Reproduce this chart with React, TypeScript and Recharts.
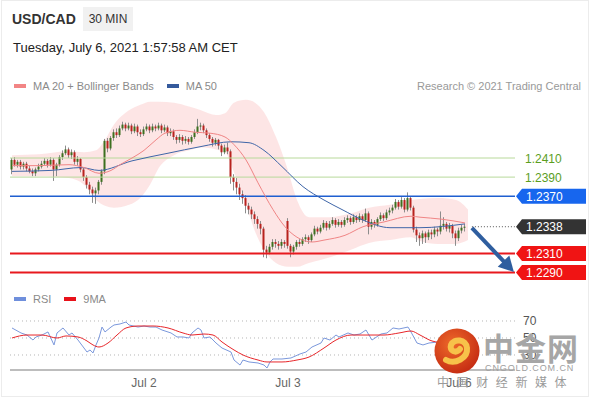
import React from "react";
import { ComposedChart, Bar, Line, Area, XAxis, YAxis, ReferenceLine } from "recharts";

// 30 min candles, [open, high, low, close]
const candles: [number, number, number, number][] = [
  [1.2398, 1.241, 1.2393, 1.2408], [1.2408, 1.2411, 1.2401, 1.2403], [1.2403, 1.2408, 1.24, 1.2406], [1.2406, 1.2408, 1.2398, 1.2401],
  [1.2401, 1.2406, 1.2398, 1.2404], [1.2404, 1.2406, 1.2396, 1.2399], [1.2399, 1.2402, 1.2394, 1.2396], [1.2396, 1.2399, 1.2391, 1.2394],
  [1.2394, 1.24, 1.2391, 1.2398], [1.2398, 1.2404, 1.2396, 1.2401], [1.2401, 1.2407, 1.2399, 1.2404], [1.2404, 1.241, 1.2402, 1.2407],
  [1.2407, 1.2409, 1.24, 1.2403], [1.2403, 1.2411, 1.2401, 1.2408], [1.2408, 1.241, 1.2386, 1.2398], [1.2398, 1.2405, 1.2391, 1.2403],
  [1.2403, 1.2413, 1.2401, 1.2411], [1.2411, 1.2418, 1.2408, 1.2415], [1.2415, 1.2423, 1.2413, 1.2419], [1.2419, 1.2421, 1.241, 1.2413],
  [1.2413, 1.2419, 1.2409, 1.2416], [1.2416, 1.2418, 1.2403, 1.2406], [1.2406, 1.2412, 1.2402, 1.2409], [1.2409, 1.241, 1.2395, 1.2398],
  [1.2398, 1.24, 1.2386, 1.239], [1.239, 1.2392, 1.2378, 1.2382], [1.2382, 1.2385, 1.2372, 1.2377], [1.2377, 1.238, 1.2363, 1.2373],
  [1.2373, 1.2379, 1.2362, 1.2376], [1.2376, 1.2387, 1.2372, 1.2385], [1.2385, 1.2398, 1.2382, 1.2396], [1.2396, 1.243, 1.2393, 1.2428],
  [1.2428, 1.2431, 1.2416, 1.242], [1.242, 1.2433, 1.2418, 1.2431], [1.2431, 1.244, 1.2428, 1.2437], [1.2437, 1.2441, 1.2431, 1.2434],
  [1.2434, 1.2444, 1.2432, 1.2441], [1.2441, 1.2448, 1.2439, 1.2445], [1.2445, 1.2447, 1.2438, 1.2441], [1.2441, 1.2447, 1.2439, 1.2444],
  [1.2444, 1.2446, 1.2435, 1.2438], [1.2438, 1.2446, 1.2436, 1.2443], [1.2443, 1.2445, 1.2433, 1.2437], [1.2437, 1.244, 1.2432, 1.2435],
  [1.2435, 1.2443, 1.2433, 1.244], [1.244, 1.2446, 1.2438, 1.2443], [1.2443, 1.2445, 1.2436, 1.2439], [1.2439, 1.2446, 1.2437, 1.2443],
  [1.2443, 1.2445, 1.2438, 1.2441], [1.2441, 1.2447, 1.2439, 1.2444], [1.2444, 1.2446, 1.2436, 1.2439], [1.2439, 1.2445, 1.2437, 1.2442],
  [1.2442, 1.2444, 1.2433, 1.2436], [1.2436, 1.2441, 1.2433, 1.2438], [1.2438, 1.244, 1.2429, 1.2432], [1.2432, 1.2434, 1.2425, 1.2429],
  [1.2429, 1.2435, 1.2426, 1.2432], [1.2432, 1.2434, 1.2424, 1.2428], [1.2428, 1.2433, 1.2425, 1.243], [1.243, 1.2432, 1.2424, 1.2427],
  [1.2427, 1.2434, 1.2425, 1.2432], [1.2432, 1.244, 1.243, 1.2437], [1.2437, 1.2451, 1.2435, 1.2443], [1.2443, 1.2447, 1.2439, 1.2444],
  [1.2444, 1.2446, 1.2436, 1.2439], [1.2439, 1.2441, 1.2431, 1.2434], [1.2434, 1.2436, 1.2427, 1.243], [1.243, 1.2432, 1.2422, 1.2426],
  [1.2426, 1.2431, 1.2423, 1.2429], [1.2429, 1.243, 1.2419, 1.2423], [1.2423, 1.2425, 1.2412, 1.2416], [1.2416, 1.2424, 1.2414, 1.2421],
  [1.2421, 1.2426, 1.2414, 1.2417], [1.2417, 1.2419, 1.2383, 1.239], [1.239, 1.2393, 1.2376, 1.2385], [1.2385, 1.2389, 1.2372, 1.2379],
  [1.2379, 1.2383, 1.2366, 1.2372], [1.2372, 1.2376, 1.2362, 1.2368], [1.2368, 1.2371, 1.2352, 1.236], [1.236, 1.2363, 1.2351, 1.2356],
  [1.2356, 1.2359, 1.2346, 1.2351], [1.2351, 1.2354, 1.2341, 1.2346], [1.2346, 1.2349, 1.2336, 1.2341], [1.2341, 1.2344, 1.233, 1.2336],
  [1.2336, 1.2338, 1.2306, 1.2314], [1.2314, 1.2318, 1.2305, 1.2311], [1.2311, 1.232, 1.2309, 1.2317], [1.2317, 1.2325, 1.2314, 1.2322],
  [1.2322, 1.2325, 1.2316, 1.232], [1.232, 1.2323, 1.2314, 1.2318], [1.2318, 1.2325, 1.2315, 1.2322], [1.2322, 1.2324, 1.2316, 1.232],
  [1.2344, 1.2347, 1.2315, 1.2318], [1.2318, 1.232, 1.2306, 1.2312], [1.2312, 1.2319, 1.2309, 1.2317], [1.2317, 1.2324, 1.2314, 1.2322],
  [1.2322, 1.2325, 1.2317, 1.232], [1.232, 1.2327, 1.2318, 1.2325], [1.2325, 1.233, 1.2322, 1.2327], [1.2327, 1.2329, 1.232, 1.2324],
  [1.2324, 1.2332, 1.2322, 1.233], [1.233, 1.2339, 1.2328, 1.2336], [1.2336, 1.2338, 1.233, 1.2333], [1.2333, 1.234, 1.2331, 1.2337],
  [1.2337, 1.2345, 1.2335, 1.2342], [1.2342, 1.2344, 1.2334, 1.2337], [1.2337, 1.2344, 1.2335, 1.2341], [1.2341, 1.2348, 1.2339, 1.2345],
  [1.2345, 1.2347, 1.2337, 1.234], [1.234, 1.2346, 1.2338, 1.2343], [1.2343, 1.2345, 1.2337, 1.234], [1.234, 1.2348, 1.2338, 1.2345],
  [1.2345, 1.235, 1.2342, 1.2347], [1.2347, 1.2349, 1.234, 1.2343], [1.2343, 1.2351, 1.2341, 1.2348], [1.2348, 1.235, 1.2342, 1.2345],
  [1.2345, 1.2352, 1.2343, 1.2349], [1.2349, 1.2351, 1.2342, 1.2345], [1.2345, 1.2357, 1.2343, 1.2352], [1.2352, 1.2354, 1.233, 1.2338],
  [1.2338, 1.2346, 1.2335, 1.2343], [1.2343, 1.2345, 1.2337, 1.234], [1.234, 1.2348, 1.2338, 1.2346], [1.2346, 1.2353, 1.2344, 1.235],
  [1.235, 1.2352, 1.2344, 1.2347], [1.2347, 1.2356, 1.2345, 1.2353], [1.2353, 1.2358, 1.235, 1.2355], [1.2355, 1.2361, 1.2352, 1.2358],
  [1.2358, 1.2367, 1.2356, 1.2364], [1.2364, 1.2366, 1.2356, 1.2359], [1.2359, 1.2369, 1.2357, 1.2366], [1.2366, 1.2368, 1.2353, 1.2356],
  [1.2356, 1.2374, 1.2354, 1.2368], [1.2368, 1.237, 1.2355, 1.2358], [1.2358, 1.236, 1.2332, 1.2335], [1.2335, 1.2338, 1.2322, 1.2329],
  [1.2329, 1.2332, 1.2318, 1.2326], [1.2326, 1.2334, 1.232, 1.2331], [1.2331, 1.2333, 1.2321, 1.2327], [1.2327, 1.2335, 1.2324, 1.2332],
  [1.2332, 1.2335, 1.2325, 1.233], [1.233, 1.2338, 1.2327, 1.2335], [1.2335, 1.2337, 1.2328, 1.2333], [1.2333, 1.2354, 1.233, 1.2339],
  [1.2339, 1.2348, 1.2335, 1.2341], [1.2341, 1.2343, 1.2333, 1.2336], [1.2336, 1.2342, 1.2332, 1.2339], [1.2339, 1.2341, 1.2326, 1.2331],
  [1.2331, 1.2334, 1.2318, 1.2326], [1.2326, 1.2337, 1.2323, 1.2334], [1.2334, 1.234, 1.2331, 1.2337], [1.2337, 1.2341, 1.2333, 1.2338],
];

// [candle index, value]
const ma20: [number, number][] = [
  [0, 1.2402], [9, 1.2402], [19, 1.2403], [24, 1.24], [29, 1.2394], [33, 1.2397], [36, 1.2403], [40, 1.241],
  [44, 1.2418], [48, 1.2429], [51, 1.2436], [56, 1.2439], [61, 1.2437], [66, 1.2436], [71, 1.2432], [74, 1.2424],
  [78, 1.2408], [82, 1.2384], [87, 1.2356], [91, 1.2338], [95, 1.2327], [100, 1.2322], [104, 1.2324], [111, 1.2329],
  [117, 1.2338], [124, 1.2343], [133, 1.2349], [136, 1.2348], [143, 1.2346], [151, 1.2342],
];

const ma50: [number, number][] = [
  [0, 1.2396], [13, 1.2397], [23, 1.24], [29, 1.2397], [40, 1.2407], [52, 1.2415], [63, 1.2422], [73, 1.2427],
  [79, 1.2426], [84, 1.2418], [90, 1.2401], [97, 1.238], [104, 1.2366], [110, 1.2356], [117, 1.2345], [126, 1.2337],
  [136, 1.2337], [151, 1.2341],
];

// [candle index, lower band, upper band]
const bollinger: [number, number, number][] = [
  [0, 1.2391, 1.2413], [9, 1.2391, 1.2414], [19, 1.2389, 1.2417], [24, 1.2382, 1.2416], [28, 1.2366, 1.2418],
  [31, 1.236, 1.2429], [34, 1.2358, 1.2445], [39, 1.2361, 1.246], [43, 1.2369, 1.2466], [46, 1.2382, 1.2469],
  [49, 1.24, 1.2469], [54, 1.2413, 1.2468], [59, 1.2418, 1.2464], [63, 1.2421, 1.246], [68, 1.2419, 1.2455],
  [71, 1.2416, 1.2457], [74, 1.2395, 1.2468], [78, 1.2361, 1.2471], [81, 1.2333, 1.2468], [84, 1.2314, 1.2458],
  [88, 1.23, 1.2432], [92, 1.2296, 1.2397], [95, 1.2296, 1.2366], [99, 1.23, 1.2348], [106, 1.2306, 1.2348],
  [113, 1.2314, 1.2352], [119, 1.2321, 1.2358], [126, 1.2324, 1.2361], [133, 1.2327, 1.2366], [136, 1.2323, 1.2367],
  [142, 1.232, 1.2368], [148, 1.232, 1.2366], [152, 1.2324, 1.2356],
];

const rsi: [number, number][] = [
  [0, 61.8], [3, 55.9], [5, 53.5], [7, 47.6], [8, 51.2], [10, 53.5], [12, 57.1], [14, 41.8], [15, 55.9], [17, 61.8],
  [19, 53.5], [20, 55.9], [22, 47.6], [24, 38.2], [25, 33.5], [26, 35.9], [27, 32.4], [28, 41.8], [29, 50], [30, 62.9],
  [31, 57.1], [33, 62.9], [34, 65.3], [36, 66.5], [38, 68.8], [39, 65.3], [42, 62.9], [44, 64.1], [46, 62.9], [48, 62.9],
  [50, 59.4], [53, 55.9], [55, 51.2], [57, 51.2], [59, 50], [60, 55.9], [62, 61.8], [63, 59.4], [64, 50], [66, 51.2],
  [68, 44.1], [70, 38.2], [73, 33.5], [74, 24.1], [76, 18.2], [77, 24.1], [79, 21.8], [82, 20.6], [84, 18.2], [85, 14.7],
  [86, 21.8], [87, 25.3], [90, 25.3], [93, 26.5], [96, 31.2], [98, 33.5], [100, 39.4], [103, 44.1], [104, 50], [106, 47.6],
  [108, 53.5], [109, 51.2], [112, 55.9], [114, 53.5], [116, 54.7], [118, 59.4], [120, 47.6], [123, 54.7], [125, 55.9],
  [127, 61.8], [129, 60.6], [132, 62.9], [133, 57.1], [135, 44.1], [137, 41.8], [139, 44.1], [142, 45.3], [145, 47],
  [148, 44], [151, 48],
];

const rsiMa: [number, number][] = [
  [0, 50], [5, 53.5], [10, 53.5], [15, 50], [18, 52.4], [22, 51.2], [25, 46.5], [27, 41.8], [29, 39.4], [32, 44.1],
  [35, 53.5], [38, 61.8], [42, 64.1], [47, 64.1], [52, 61.8], [57, 55.9], [60, 53.5], [64, 54.7], [67, 53.5], [70, 45.3],
  [74, 35.9], [77, 30], [82, 24.1], [85, 21.8], [90, 21.8], [95, 24.1], [99, 27.6], [104, 38.2], [108, 47.6], [113, 53.5],
  [118, 53.5], [124, 53.5], [129, 55.9], [133, 58.2], [136, 53.5], [140, 46.5], [145, 44], [151, 44],
];

const tickIdx = [44, 92, 149];
const tickLabels = ["Jul 2", "Jul 3", "Jul 6"];

const levels = [1.241, 1.239, 1.237, 1.2338, 1.231, 1.229];
const levelKind = ["res", "res", "pivot", "last", "sup", "sup"];
const lastPrice = 1.2338;
const target = 1.229;

const X_DOMAIN: [number, number] = [-0.67, 167.67];
const P_DOMAIN: [number, number] = [1.22822, 1.2476];
const RSI_DOMAIN: [number, number] = [12.35, 82.94];

const FONT = '"Liberation Sans", Arial, sans-serif';
const CJK = '"Noto Sans CJK SC", sans-serif';

const candleData = candles.map(([o, h, l, c], i) => ({ i, o, h, l, c, range: [l, h] }));
const ma20Data = ma20.map(([i, v]) => ({ i, v }));
const ma50Data = ma50.map(([i, v]) => ({ i, v }));
const bandData = bollinger.map(([i, lo, hi]) => ({ i, band: [lo, hi] }));
const rsiData = rsi.map(([i, v]) => ({ i, v }));
const rsiMaData = rsiMa.map(([i, v]) => ({ i, v }));

const Candle = (props: any) => {
  const { x, y, width, height, payload } = props;
  if (x == null || !payload) return null;
  const top = Math.min(y, y + height);
  const span = Math.abs(height);
  const k = payload.h > payload.l ? span / (payload.h - payload.l) : 0;
  const cx = x + width / 2;
  const yo = top + (payload.h - payload.o) * k;
  const yc = top + (payload.h - payload.c) * k;
  const up = payload.c >= payload.o;
  return (
    <g>
      <line x1={cx} x2={cx} y1={top} y2={top + span} stroke="#8c8c8c" strokeWidth={1} />
      <rect x={cx - 1} y={Math.min(yo, yc)} width={2} height={Math.max(1, Math.abs(yo - yc))} fill={up ? "#3d7020" : "#b8221e"} />
    </g>
  );
};

const tagColor: Record<string, string> = { pivot: "#1766ee", last: "#333333", sup: "#f01414" };

const LevelTag = (props: any) => {
  const { y, payload, index } = props;
  const kind = levelKind[index] ?? levelKind[levels.indexOf(payload.value)];
  const label = Number(payload.value).toFixed(4);
  if (kind === "res") {
    return (
      <text x={525} y={y} dy={4.5} fill="#5b9e1e" fontSize={12} fontFamily={FONT}>
        {label}
      </text>
    );
  }
  const d = `M516 ${y} L522 ${y - 7.5} L586 ${y - 7.5} L586 ${y + 7.5} L522 ${y + 7.5} Z`;
  return (
    <g>
      <path d={d} fill={tagColor[kind]} />
      <text x={526} y={y} dy={4.5} fill="#fff" fontSize={12} fontFamily={FONT}>
        {label}
      </text>
    </g>
  );
};

const Arrow = (props: any) => {
  const { x1, y1, x2, y2 } = props;
  if (x1 == null) return null;
  const len = Math.hypot(x2 - x1, y2 - y1) || 1;
  const ux = (x2 - x1) / len;
  const uy = (y2 - y1) / len;
  const bx = x2 - ux * 15;
  const by = y2 - uy * 15;
  const px = -uy * 8;
  const py = ux * 8;
  return (
    <g>
      <line x1={x1} y1={y1} x2={bx + ux * 2} y2={by + uy * 2} stroke="#2f5e9f" strokeWidth={4} />
      <polygon points={`${x2},${y2} ${bx + px},${by + py} ${bx - px},${by - py}`} fill="#2f5e9f" />
    </g>
  );
};

const legendText: React.CSSProperties = { fontSize: 11, color: "#8a8a8a", lineHeight: "12px" };
const swatch = (color: string): React.CSSProperties => ({
  display: "inline-block",
  width: 12,
  height: 4,
  background: color,
  marginRight: 7,
  verticalAlign: "middle",
  position: "relative",
  top: -1,
});

export default function App() {
  return (
    <div style={{ position: "absolute", left: 0, top: 0, width: 590, height: 400, background: "#fff", fontFamily: FONT, overflow: "hidden" }}>
      <div style={{ position: "absolute", left: 1, top: 0, width: 586, height: 395, border: "1px solid #ececec" }} />

      <div style={{ position: "absolute", left: 12, top: 10, fontSize: 14, fontWeight: 700, color: "#333", lineHeight: "18px" }}>USD/CAD</div>
      <div style={{ position: "absolute", left: 83, top: 7, width: 50, height: 24, background: "#f1f1f1", fontSize: 12, lineHeight: "24px", textAlign: "center", color: "#333" }}>
        30 MIN
      </div>
      <div style={{ position: "absolute", left: 13, top: 40, fontSize: 13, lineHeight: "16px", color: "#222" }}>
        Tuesday, July 6, 2021 1:57:58 AM CET
      </div>

      <div style={{ position: "absolute", left: 14, top: 80, ...legendText }}>
        <span style={swatch("#f28585")} />
        MA 20 + Bollinger Bands
        <span style={{ ...swatch("#355a9c"), marginLeft: 13 }} />
        MA 50
      </div>
      <div style={{ position: "absolute", right: 9, top: 80, ...legendText, color: "#999" }}>Research © 2021 Trading Central</div>

      <div style={{ position: "absolute", left: 0, top: 90 }}>
        <ComposedChart width={590} height={195} data={candleData} margin={{ top: 5, right: 0, bottom: 5, left: 10 }}>
          <XAxis dataKey="i" type="number" domain={X_DOMAIN} allowDataOverflow hide />
          <YAxis
            type="number"
            orientation="right"
            width={75}
            domain={P_DOMAIN}
            allowDataOverflow
            ticks={levels}
            interval={0}
            axisLine={false}
            tickLine={false}
            tick={(p: any) => <LevelTag {...p} />}
          />
          <Area data={bandData} dataKey="band" type="monotone" stroke="none" fill="#fcdada" fillOpacity={0.7} isAnimationActive={false} />
          <ReferenceLine y={levels[0]} stroke="#b8d99a" strokeWidth={1} />
          <ReferenceLine y={levels[1]} stroke="#b8d99a" strokeWidth={1} />
          <ReferenceLine y={levels[2]} stroke="#1f5fd0" strokeWidth={1.5} />
          <ReferenceLine y={levels[4]} stroke="#e8191e" strokeWidth={2} />
          <ReferenceLine y={levels[5]} stroke="#e8191e" strokeWidth={2} />
          <Bar dataKey="range" barSize={2} shape={(p: any) => <Candle {...p} />} isAnimationActive={false} />
          <Line data={ma50Data} dataKey="v" type="monotone" stroke="#3f66a8" strokeWidth={1} dot={false} isAnimationActive={false} />
          <Line data={ma20Data} dataKey="v" type="monotone" stroke="#f08585" strokeWidth={1} dot={false} isAnimationActive={false} />
          <ReferenceLine
            segment={[{ x: 153.3, y: lastPrice }, { x: 167.6, y: lastPrice }]}
            stroke="#555"
            strokeDasharray="1 2"
          />
          <ReferenceLine
            segment={[{ x: 153.3, y: 1.23367 }, { x: 167.3, y: target + 0.00006 }]}
            shape={(p: any) => <Arrow {...p} />}
          />
        </ComposedChart>
      </div>

      <div style={{ position: "absolute", left: 14, top: 293, ...legendText }}>
        <span style={swatch("#6f8fdc")} />
        RSI
        <span style={{ ...swatch("#e8121a"), marginLeft: 13 }} />
        9MA
      </div>

      <div style={{ position: "absolute", left: 0, top: 290 }}>
        <ComposedChart width={590} height={110} margin={{ top: 20, right: 0, bottom: 0, left: 10 }}>
          <XAxis
            dataKey="i"
            type="number"
            domain={X_DOMAIN}
            allowDataOverflow
            ticks={tickIdx}
            tickFormatter={(v: number) => tickLabels[tickIdx.indexOf(v)] ?? ""}
            axisLine={{ stroke: "#bdbdbd", strokeWidth: 2 }}
            tickLine={false}
            tick={{ fontSize: 12, fill: "#666", fontFamily: FONT }}
            height={30}
          />
          <YAxis
            type="number"
            orientation="right"
            width={75}
            domain={RSI_DOMAIN}
            allowDataOverflow
            ticks={[30, 50, 70]}
            interval={0}
            axisLine={false}
            tickLine={false}
            tick={{ fontSize: 12, fill: "#555", fontFamily: FONT, textAnchor: "start" }}
          />
          <ReferenceLine y={70} stroke="#b5b5b5" strokeDasharray="1 3" />
          <ReferenceLine y={50} stroke="#b5b5b5" strokeDasharray="1 3" />
          <ReferenceLine y={30} stroke="#b5b5b5" strokeDasharray="1 3" />
          <Line data={rsiData} dataKey="v" type="linear" stroke="#7b98dc" strokeWidth={1} dot={false} isAnimationActive={false} />
          <Line data={rsiMaData} dataKey="v" type="monotone" stroke="#e8262a" strokeWidth={1} dot={false} isAnimationActive={false} />
        </ComposedChart>
      </div>

      {/* watermark */}
      <svg style={{ position: "absolute", left: 433, top: 327 }} width={48} height={48}>
        <defs>
          <radialGradient id="wm" cx="40%" cy="35%" r="70%">
            <stop offset="0%" stopColor="#ee6a2a" />
            <stop offset="100%" stopColor="#c42a12" />
          </radialGradient>
        </defs>
        <circle cx={24} cy={24} r={22.5} fill="url(#wm)" />
        <path d="M13 33 C22 38 35 31 34 21 C33 12 21 11 18 18 C16 24 23 27 27 22" stroke="#f7c24a" strokeWidth={6} fill="none" strokeLinecap="round" />
      </svg>
      <div style={{ position: "absolute", left: 483, top: 328, fontSize: 31, fontWeight: 700, color: "#a6a6a6", lineHeight: "38px", letterSpacing: 1, fontFamily: CJK }}>
        中金网
      </div>
      <div style={{ position: "absolute", left: 485, top: 363, fontSize: 9, color: "#a0a0a0", lineHeight: "10px", letterSpacing: 0.9 }}>CNGOLD.COM.CN</div>
      <div style={{ position: "absolute", left: 437, top: 375, fontSize: 12, color: "#9a9a9a", lineHeight: "14px", letterSpacing: 7.6, fontFamily: CJK }}>
        中国财经新媒体
      </div>
    </div>
  );
}
